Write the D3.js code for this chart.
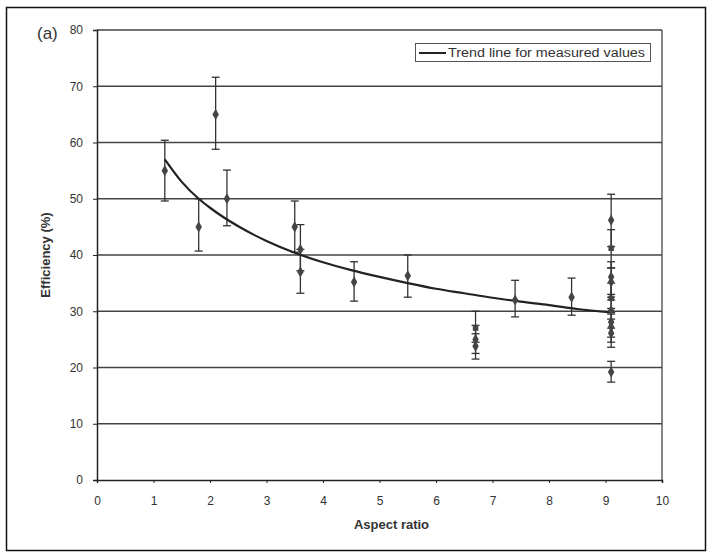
<!DOCTYPE html>
<html>
<head>
<meta charset="utf-8">
<script src="https://cdn.jsdelivr.net/npm/d3@7"></script>
<style>
  body { margin: 0; background: #fff; }
  text { font-family: Arial, "Liberation Sans", sans-serif; fill: #333; }
</style>
</head>
<body>
<svg id="chart" width="712" height="558"></svg>
<script>
// measured points: aspect ratio, efficiency, error low, error high
const pointX  = [1.2, 2.1, 2.3, 1.8, 3.5, 3.6, 3.6, 4.55, 5.5, 6.7, 6.7, 6.7, 7.4, 8.4,
                 9.1, 9.1, 9.1, 9.1, 9.1, 9.1, 9.1, 9.1, 9.1, 9.1];
const pointY  = [55, 65, 50, 45, 45, 41, 37, 35.2, 36.3, 27, 25, 23.8, 32, 32.5,
                 46.2, 41.2, 36.1, 35.2, 32.3, 30.1, 28.1, 27.2, 26.1, 19.2];
const errLow  = [49.6, 58.8, 45.2, 40.7, 40.5, 37.2, 33.2, 31.8, 32.5, 24.5, 22.5, 21.5, 29, 29.3,
                 41.5, 37.7, 32.5, 32, 29.5, 27, 25.4, 24.5, 23.6, 17.4];
const errHigh = [60.4, 71.6, 55.1, 50, 49.6, 45.4, 41, 38.8, 40, 30, 27.5, 26, 35.5, 35.9,
                 50.8, 44.5, 38.8, 37.7, 35, 33, 30.5, 29.8, 28.6, 21.1];
const squareMark = [false, false, false, false, false, false, false, false, false, true, false, false, false, false,
                    false, true, false, false, true, false, false, false, false, false];

// trend line
const trendX = [1.2, 1.5, 1.8, 2, 2.5, 3, 3.5, 4, 4.5, 5, 5.5, 6, 6.5, 7, 7.5, 8, 8.5, 9.1];
const trendY = [57, 53, 50, 48.4, 45.1, 42.5, 40.4, 38.7, 37.3, 36.1, 35, 34, 33.2, 32.4, 31.7, 31.1, 30.4, 29.8];

const xTicks = [0, 1, 2, 3, 4, 5, 6, 7, 8, 9, 10];
const yTicks = [0, 10, 20, 30, 40, 50, 60, 70, 80];

const svg = d3.select('#chart');
const ink = '#333';

// outer frame
svg.append('rect')
    .attr('x', 6.5).attr('y', 7.5)
    .attr('width', 699).attr('height', 543)
    .attr('fill', 'none')
    .attr('stroke', '#111')
    .attr('stroke-width', 1.5);

const plotLeft = 97, plotRight = 662, plotTop = 30, plotBottom = 480;
const x = d3.scaleLinear().domain([0, 10]).range([plotLeft, plotRight]);
const y = d3.scaleLinear().domain([0, 80]).range([plotBottom, plotTop]);

// horizontal gridlines
svg.append('g')
    .selectAll('line')
    .data(yTicks.filter(d => d > 0))
    .enter()
    .append('line')
    .attr('x1', plotLeft).attr('x2', plotRight)
    .attr('y1', d => y(d)).attr('y2', d => y(d))
    .attr('stroke', '#444')
    .attr('stroke-width', 1.3);

// right border
svg.append('line')
    .attr('x1', plotRight).attr('x2', plotRight)
    .attr('y1', plotTop).attr('y2', plotBottom)
    .attr('stroke', '#444').attr('stroke-width', 1.3);

// axes
const xAxis = svg.append('g')
    .attr('transform', `translate(0,${plotBottom})`)
    .call(d3.axisBottom(x).tickValues(xTicks).tickSize(3).tickPadding(13));
const yAxis = svg.append('g')
    .attr('transform', `translate(${plotLeft},0)`)
    .call(d3.axisLeft(y).tickValues(yTicks).tickSize(4).tickPadding(10));

[xAxis, yAxis].forEach(a => {
    a.select('.domain').attr('stroke', '#222').attr('stroke-width', 1.5);
    a.selectAll('.tick line').attr('stroke', '#222');
    a.selectAll('.tick text')
        .attr('fill', '#333')
        .style('font-size', '12px')
        .style('font-family', 'Arial, "Liberation Sans", sans-serif');
});

// axis titles
svg.append('text')
    .attr('x', (plotLeft + plotRight) / 2 + 12).attr('y', 529)
    .attr('text-anchor', 'middle')
    .style('font-size', '13px').style('font-weight', 'bold')
    .text('Aspect ratio');

svg.append('text')
    .attr('transform', `translate(50,255) rotate(-90)`)
    .attr('text-anchor', 'middle')
    .style('font-size', '13px').style('font-weight', 'bold')
    .text('Efficiency (%)');

svg.append('text')
    .attr('x', 37).attr('y', 39)
    .style('font-size', '17px')
    .text('(a)');

// error bars
const bars = svg.append('g');
pointX.forEach((px, i) => {
    const cx = x(px);
    bars.append('line')
        .attr('x1', cx).attr('x2', cx)
        .attr('y1', y(errLow[i])).attr('y2', y(errHigh[i]))
        .attr('stroke', ink).attr('stroke-width', 1.3);
    [errLow[i], errHigh[i]].forEach(v => {
        bars.append('line')
            .attr('x1', cx - 4).attr('x2', cx + 4)
            .attr('y1', y(v)).attr('y2', y(v))
            .attr('stroke', ink).attr('stroke-width', 1.3);
    });
});

// trend line
const trendData = trendX.map((d, i) => [d, trendY[i]]);
svg.append('path')
    .datum(trendData)
    .attr('fill', 'none')
    .attr('stroke', '#222')
    .attr('stroke-width', 2.2)
    .attr('d', d3.line().x(d => x(d[0])).y(d => y(d[1])).curve(d3.curveMonotoneX));

// markers
svg.append('g')
    .selectAll('path')
    .data(pointX.map((d, i) => i))
    .enter()
    .append('path')
    .attr('transform', i => `translate(${x(pointX[i])},${y(pointY[i])})`)
    .attr('d', i => d3.symbol().type(squareMark[i] ? d3.symbolSquare : d3.symbolDiamond).size(squareMark[i] ? 30 : 36)())
    .attr('fill', '#444');

// legend
const lg = svg.append('g');
lg.append('rect')
    .attr('x', 415.5).attr('y', 43.5)
    .attr('width', 235).attr('height', 18)
    .attr('fill', '#fff')
    .attr('stroke', '#555');
lg.append('line')
    .attr('x1', 419).attr('x2', 446)
    .attr('y1', 53).attr('y2', 53)
    .attr('stroke', '#222').attr('stroke-width', 2);
lg.append('text')
    .attr('x', 448).attr('y', 57)
    .attr('textLength', 197)
    .attr('lengthAdjust', 'spacingAndGlyphs')
    .style('font-size', '12px')
    .text('Trend line for measured values');
</script>
</body>
</html>
